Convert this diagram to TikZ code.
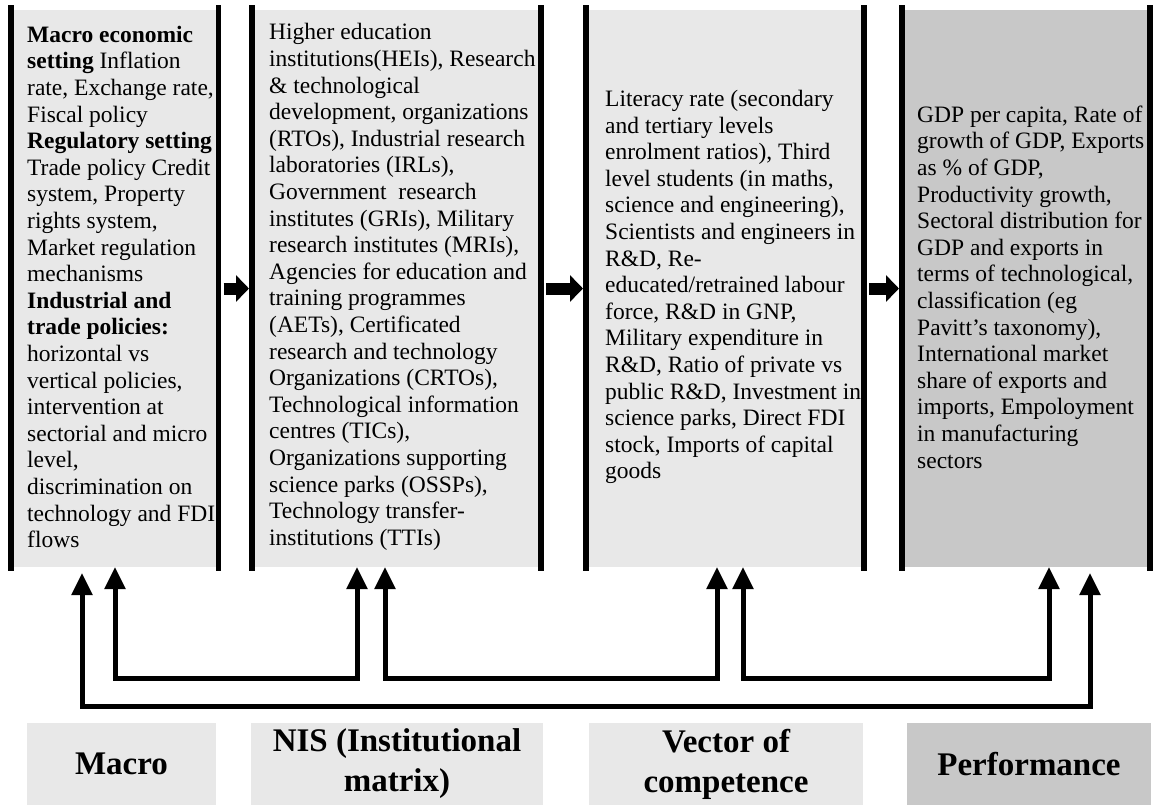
\documentclass[tikz,border=0pt]{standalone}
\usepackage{xcolor}
\usepackage{tikz}
\usepackage{fontspec}
\setmainfont{Liberation Serif}
\usetikzlibrary{arrows.meta}

\definecolor{colgray}{HTML}{E8E8E8}
\definecolor{perfgray}{HTML}{C8C8C8}

\begin{document}
\begin{tikzpicture}[x=1pt, y=-1pt]
\tikzstyle{col}=[fill=colgray, inner sep=0pt, outer sep=0pt, minimum height=557pt]
\tikzstyle{txt}=[anchor=west, align=left, inner sep=0pt, font=\fontsize{23.5}{26.6}\selectfont]
\tikzstyle{bar}=[line width=5.5pt]
\tikzstyle{blk}=[line width=12pt, -{Triangle[length=13pt, width=26pt]}, shorten <=5pt, shorten >=3pt]
\tikzstyle{fb}=[line width=5pt, {Triangle[length=22pt, width=20pt]}-{Triangle[length=22pt, width=20pt]}]
\tikzstyle{lbl}=[fill=colgray, inner sep=0pt, minimum height=82pt, align=center, font=\fontsize{33}{40}\selectfont\bfseries]

\useasboundingbox (0,0) rectangle (1162,807);

% the four columns
\node[col, minimum width=207.5pt] (c1) at (114.75,288.5) {};
\node[col, minimum width=289pt] (c2) at (396.5,288.5) {};
\node[col, minimum width=278pt] (c3) at (725,288.5) {};
\node[col, fill=perfgray, minimum width=248pt] (c4) at (1026,288.5) {};
\foreach \c in {c1,c2,c3,c4} {
  \draw[bar] ([yshift=5pt]\c.north west) -- ([yshift=-4pt]\c.south west);
  \draw[bar] ([yshift=5pt]\c.north east) -- ([yshift=-4pt]\c.south east);
}

\node[txt] (t1) at (27,287) {\textbf{Macro economic}\\\textbf{setting} Inflation\\rate, Exchange rate,\\Fiscal policy\\\textbf{Regulatory setting}\\Trade policy Credit\\system, Property\\rights system,\\Market regulation\\mechanisms\\\textbf{Industrial and}\\\textbf{trade policies:}\\horizontal vs\\vertical policies,\\intervention at\\sectorial and micro\\level,\\discrimination on\\technology and FDI\\flows};
\node[txt] (t2) at (269,287) {Higher education\\institutions(HEIs), Research\\\& technological\\development, organizations\\(RTOs), Industrial research\\laboratories (IRLs),\\Government~ research\\institutes (GRIs), Military\\research institutes (MRIs),\\Agencies for education and\\training programmes\\(AETs), Certificated\\research and technology\\Organizations (CRTOs),\\Technological information\\centres (TICs),\\Organizations supporting\\science parks (OSSPs),\\Technology transfer-\\institutions (TTIs)};
\node[txt] (t3) at (605,287) {Literacy rate (secondary\\and tertiary levels\\enrolment ratios), Third\\level students (in maths,\\science and engineering),\\Scientists and engineers in\\R\&D, Re-\\educated/retrained labour\\force, R\&D in GNP,\\Military expenditure in\\R\&D, Ratio of private vs\\public R\&D, Investment in\\science parks, Direct FDI\\stock, Imports of capital\\goods};
\node[txt] (t4) at (917,287) {GDP per capita, Rate of\\growth of GDP, Exports\\as \% of GDP,\\Productivity growth,\\Sectoral distribution for\\GDP and exports in\\terms of technological,\\classification (eg\\Pavitt’s taxonomy),\\International market\\share of exports and\\imports, Empoloyment\\in manufacturing\\sectors};

% forward arrows
\draw[blk] (c1.east) -- (c2.west);
\draw[blk] (c2.east) -- (c3.west);
\draw[blk] (c3.east) -- (c4.west);

% feedback loops
\coordinate (m1) at (82,573);
\coordinate (m2) at (115,567);
\coordinate (n1) at (357,567);
\coordinate (n2) at (385,567);
\coordinate (v1) at (717,567);
\coordinate (v2) at (743,567);
\coordinate (p1) at (1049,567);
\coordinate (p2) at (1090,573);
\coordinate (inner) at (0,678);
\coordinate (outer) at (0,706);
\draw[fb] (m2) -- (m2 |- inner) -- (n1 |- inner) -- (n1);
\draw[fb] (n2) -- (n2 |- inner) -- (v1 |- inner) -- (v1);
\draw[fb] (v2) -- (v2 |- inner) -- (p1 |- inner) -- (p1);
\draw[fb] (m1) -- (m1 |- outer) -- (p2 |- outer) -- (p2);

% labels
\node[lbl, minimum width=189pt] (l1) at (121.5,764) {Macro};
\node[lbl, minimum width=292pt] (l2) at (397,764) {NIS (Institutional\\matrix)};
\node[lbl, minimum width=274pt] (l3) at (726,764) {Vector of\\competence};
\node[lbl, fill=perfgray, minimum width=244pt] (l4) at (1029,764) {Performance};
\end{tikzpicture}
\end{document}
